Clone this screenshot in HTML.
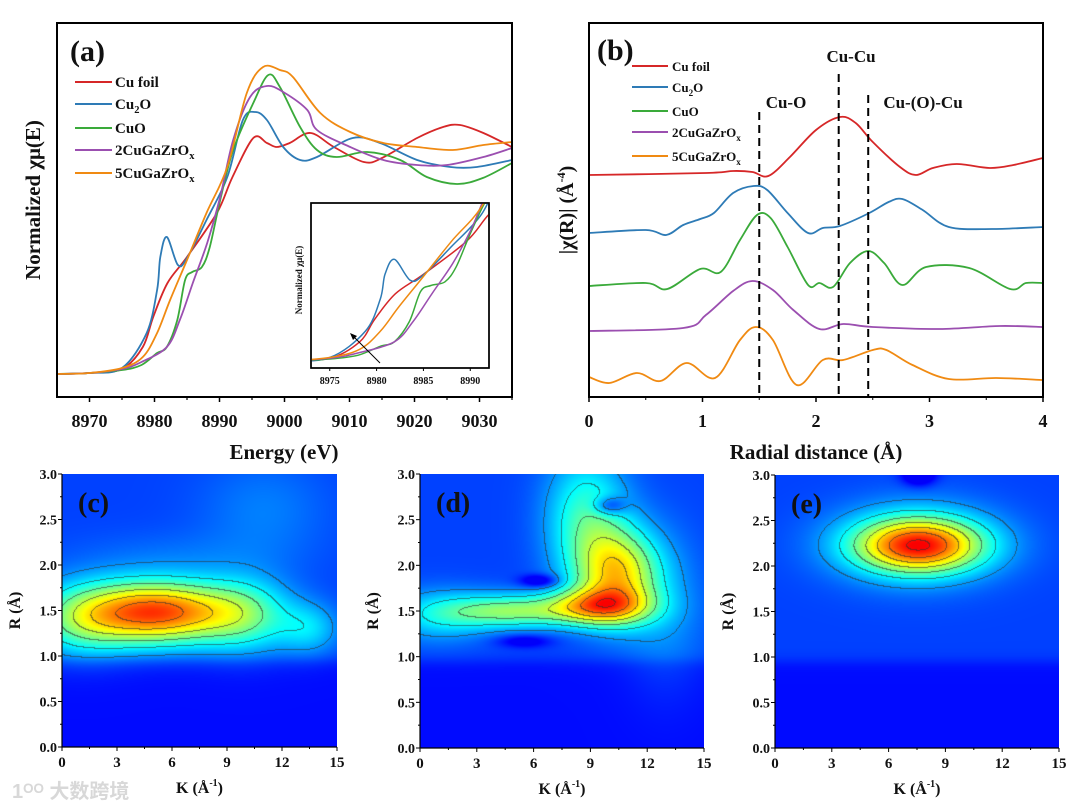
<!DOCTYPE html>
<html><head><meta charset="utf-8">
<style>
html,body{margin:0;padding:0;background:#fff;}
body{width:1080px;height:810px;position:relative;overflow:hidden;font-family:"Liberation Serif",serif;}
svg{position:absolute;left:0;top:0;}
canvas{position:absolute;}
</style></head>
<body>
<canvas id="cc"></canvas>
<canvas id="cd"></canvas>
<canvas id="ce"></canvas>
<svg id="s" width="1080" height="810" xmlns="http://www.w3.org/2000/svg"></svg>
<script>
// ---------- Panel (a) data: energy (eV) and normalized mu ----------
const aCuFoilE=[8965,8970,8975,8978.2,8979.8,8982,8985,8989.6,8992,8995.2,8997.3,8998.8,9000.8,9004,9007.6,9012.2,9015,9020.4,9024.4,9027,9030.6,9035];
const aCuFoilMu=[0,0.005,0.025,0.135,0.285,0.455,0.585,0.805,0.985,1.18,1.155,1.135,1.155,1.205,1.135,1.06,1.08,1.18,1.235,1.245,1.205,1.135];
const aCu2OE=[8965,8970,8975,8978.8,8980.4,8980.9,8981.9,8983.6,8985,8988,8991.2,8993.6,8995.5,8997.3,8999.8,9002.4,9005,9010.5,9014.7,9020.4,9025.5,9029.6,9035];
const aCu2OMu=[0,0.005,0.03,0.205,0.42,0.585,0.685,0.545,0.58,0.77,0.985,1.27,1.31,1.27,1.135,1.07,1.085,1.18,1.155,1.07,1.035,1.035,1.07];
const aCuOE=[8965,8970,8975,8978,8980.4,8981.9,8983.5,8984.7,8985.8,8987.3,8988.5,8990.1,8992.1,8995.2,8997.5,8999.3,9002.4,9005,9008,9012.7,9017.8,9021.9,9026.5,9030.5,9035];
const aCuOMu=[0,0.005,0.02,0.045,0.105,0.135,0.27,0.47,0.51,0.535,0.635,0.87,1.12,1.355,1.495,1.435,1.235,1.12,1.085,1.11,1.07,0.985,0.95,0.98,1.055];
const a2CuE=[8965,8970,8975,8978,8981.9,8983.9,8985.9,8988.1,8990.1,8992.1,8994.7,8997.3,8999.8,9003.5,9005,9010.1,9015.2,9020.4,9025,9030.6,9035];
const a2CuMu=[0,0.005,0.025,0.06,0.135,0.27,0.455,0.655,0.885,1.17,1.385,1.44,1.41,1.32,1.22,1.135,1.07,1.045,1.045,1.085,1.13];
const a5CuE=[8965,8970,8975,8978.2,8980.4,8982.4,8985,8988,8991.2,8994.2,8996.7,8999.3,9001.3,9005.5,9010.1,9015.2,9020.4,9025.9,9030.6,9035];
const a5CuMu=[0,0.005,0.03,0.085,0.205,0.37,0.57,0.805,1.035,1.405,1.535,1.52,1.485,1.305,1.21,1.155,1.135,1.12,1.145,1.16];
const aTicks=[8970,8980,8990,9000,9010,9020,9030];
const insetTicks=[8975,8980,8985,8990];
// ---------- Panel (b) data: R (Å) and |chi(R)| (offset, a.u.) ----------
const bCuFoilR=[0,1.03,1.27,1.44,1.58,1.77,2.0,2.21,2.35,2.5,2.74,2.88,3.03,3.24,3.53,3.74,4];
const bCuFoilV=[2.25,2.27,2.29,2.28,2.24,2.43,2.70,2.83,2.77,2.58,2.33,2.25,2.32,2.36,2.32,2.35,2.42];
const bCu2OR=[0,0.5,0.68,0.83,0.98,1.1,1.27,1.45,1.57,1.75,1.93,2.06,2.21,2.47,2.64,2.76,2.94,3.17,3.55,4];
const bCu2OV=[1.67,1.70,1.65,1.75,1.81,1.87,2.07,2.14,2.10,1.87,1.67,1.72,1.74,1.87,1.98,2.01,1.90,1.73,1.71,1.73];
const bCuOR=[0,0.5,0.69,0.98,1.16,1.33,1.48,1.6,1.75,1.93,2.03,2.15,2.3,2.46,2.6,2.76,2.97,3.35,3.71,3.85,4];
const bCuOV=[1.14,1.17,1.11,1.31,1.28,1.60,1.85,1.82,1.53,1.15,1.17,1.13,1.37,1.49,1.37,1.15,1.33,1.32,1.11,1.17,1.17];
const b2CuR=[0,0.83,1.03,1.27,1.44,1.62,1.8,2.03,2.24,2.5,3.09,3.62,4];
const b2CuV=[0.69,0.72,0.85,1.09,1.19,1.10,0.90,0.71,0.76,0.73,0.71,0.74,0.73];
const b5CuR=[0,0.18,0.42,0.63,0.86,1.11,1.33,1.47,1.62,1.83,2.06,2.24,2.5,2.62,2.85,3.17,3.59,4];
const b5CuV=[0.23,0.17,0.27,0.19,0.37,0.22,0.60,0.73,0.60,0.15,0.40,0.40,0.50,0.50,0.35,0.21,0.22,0.20];
const bTicks=[0,1,2,3,4];
const bDashR=[1.5,2.2,2.46];
// ---------- Wavelet components [k, R, amplitude, sigmaK, sigmaR] ----------
const wtC=[[5.2,1.48,0.8,2.8,0.24],[1,1.4,0.3,2,0.28],[10,1.45,0.3,1.8,0.28],[13.5,1.3,0.18,1.2,0.2],[11,2.6,0.08,2.5,0.4],[6,2.1,0.05,4,0.2]];
const wtD=[[9.5,1.55,0.5,1.8,0.14],[10.5,1.9,0.55,1.5,0.35],[5,1.5,0.4,2.5,0.13],[8.8,2.5,0.32,1.5,0.5],[1,1.45,0.2,2,0.2],[13,1.5,0.1,1.5,0.6],[10,2.65,-0.22,0.6,0.07],[6.3,1.83,-0.22,0.7,0.05],[5.5,1.17,-0.15,1,0.05]];
const wtE=[[7.6,2.22,0.62,2.3,0.2],[7.5,2.25,0.3,3.0,0.3],[7.6,3.0,-0.25,0.6,0.08]];
const kTicks=[0,3,6,9,12,15];
const rTicks=[0.0,0.5,1.0,1.5,2.0,2.5,3.0];

const NS="http://www.w3.org/2000/svg";
const S=document.getElementById('s');
function mk(tag,attrs,parent){const e=document.createElementNS(NS,tag);for(const k in attrs)e.setAttribute(k,attrs[k]);(parent||S).appendChild(e);return e;}
function txt(x,y,str,size,anchor,parent,extra){const t=mk('text',Object.assign({x:x,y:y,'font-size':size,'font-weight':'bold','text-anchor':anchor||'middle','font-family':'Liberation Serif, serif',fill:'#111'},extra||{}),parent);t.textContent=str;return t;}
function smoothPath(pts){let d='M'+pts[0][0].toFixed(1)+','+pts[0][1].toFixed(1);for(let i=0;i<pts.length-1;i++){const p0=pts[Math.max(0,i-1)],p1=pts[i],p2=pts[i+1],p3=pts[Math.min(pts.length-1,i+2)];const c1=[p1[0]+(p2[0]-p0[0])/6,p1[1]+(p2[1]-p0[1])/6],c2=[p2[0]-(p3[0]-p1[0])/6,p2[1]-(p3[1]-p1[1])/6];d+=' C'+c1[0].toFixed(1)+','+c1[1].toFixed(1)+' '+c2[0].toFixed(1)+','+c2[1].toFixed(1)+' '+p2[0].toFixed(1)+','+p2[1].toFixed(1);}return d;}
const COLORS=['#d62728','#2e7bb6','#3aaa3a','#9b4fb0','#f08a12'];
const NAMES=['Cu foil','Cu2O','CuO','2CuGaZrOx','5CuGaZrOx'];
function legendLabel(g,x,y,i,size){const t=txt(x,y,'',size,'start',g);
 const parts=[['Cu foil'],['Cu','2','O'],['CuO'],['2CuGaZrO','x'],['5CuGaZrO','x']][i];
 parts.forEach((p,j)=>{const ts=document.createElementNS(NS,'tspan');const sub=(i===1&&j===1)||(i>=3&&j===1);if(sub){ts.setAttribute('font-size',size*0.7);ts.setAttribute('dy',4);}else if(j>0&&i===1){ts.setAttribute('dy',-4);}ts.textContent=p;t.appendChild(ts);});}

// ===== Panel (a) =====
const A={x0:57,x1:512,y0:23,y1:397,e0:8965,e1:9035};
const ax=e=>A.x0+(e-A.e0)/(A.e1-A.e0)*(A.x1-A.x0);
const ay=m=>374-m*200;
const gA=mk('g',{});
mk('defs',{},gA).innerHTML='<clipPath id="clipA"><rect x="57" y="23" width="455" height="374"/></clipPath><clipPath id="clipI"><rect x="311" y="203" width="178" height="165"/></clipPath>';
const aSeries=[[aCuFoilE,aCuFoilMu],[aCu2OE,aCu2OMu],[aCuOE,aCuOMu],[a2CuE,a2CuMu],[a5CuE,a5CuMu]];
const gAL=mk('g',{'clip-path':'url(#clipA)'},gA);
aSeries.forEach((s,i)=>{const p=mk('path',{d:smoothPath(s[0].map((e,j)=>[ax(e),ay(s[1][j])])),fill:'none',stroke:COLORS[i],'stroke-width':1.8},gAL);});
mk('rect',{x:A.x0,y:A.y0,width:A.x1-A.x0,height:A.y1-A.y0,fill:'none',stroke:'#000','stroke-width':2},gA);
aTicks.forEach(t=>{mk('line',{x1:ax(t),x2:ax(t),y1:A.y1,y2:A.y1+5,stroke:'#000','stroke-width':1.5},gA);mk('line',{x1:ax(t+5),x2:ax(t+5),y1:A.y1,y2:A.y1+3,stroke:'#000','stroke-width':1.2},gA);const l=txt(ax(t),427,String(t),18,'middle',gA);});
const xtA=txt(284,459,'Energy (eV)',21,'middle',gA);
const ytA=txt(0,0,'Normalized χμ(E)',21,'middle',gA,{transform:'translate(40,200) rotate(-90)'});
const labA=txt(70,61,'(a)',30,'start',gA);
const legA=mk('g',{},gA);
[82,104,128,150,173].forEach((y,i)=>{mk('line',{x1:75,x2:112,y1:y,y2:y,stroke:COLORS[i],'stroke-width':2},legA);legendLabel(legA,115,y+5,i,15);});
// inset
const I={x0:311,x1:489,y0:203,y1:368,e0:8973,e1:8992};
const ix=e=>I.x0+(e-I.e0)/(I.e1-I.e0)*(I.x1-I.x0);
const iy=m=>362-m*150;
const gI=mk('g',{},gA);
mk('rect',{x:I.x0,y:I.y0,width:I.x1-I.x0,height:I.y1-I.y0,fill:'#fff',stroke:'#000','stroke-width':1.5},gI);
const gIL=mk('g',{'clip-path':'url(#clipI)'},gI);
aSeries.forEach((s,i)=>{mk('path',{d:smoothPath(s[0].map((e,j)=>[ix(e),iy(s[1][j])])),fill:'none',stroke:COLORS[i],'stroke-width':1.5},gIL);});
mk('rect',{x:I.x0,y:I.y0,width:I.x1-I.x0,height:I.y1-I.y0,fill:'none',stroke:'#000','stroke-width':1.5},gI);
insetTicks.forEach(t=>{mk('line',{x1:ix(t),x2:ix(t),y1:I.y1,y2:I.y1+3,stroke:'#000'},gI);txt(ix(t),384,String(t),10,'middle',gI);});
txt(0,0,'Normalized χμ(E)',9,'middle',gI,{transform:'translate(302,280) rotate(-90)'});
mk('line',{x1:380,y1:363,x2:352,y2:335,stroke:'#000','stroke-width':1},gI);
mk('path',{d:'M350,333 L357,336 L353,340 Z',fill:'#000'},gI);

// ===== Panel (b) =====
const B={x0:589,x1:1043,y0:23,y1:397};
const bx=r=>B.x0+r/4*(B.x1-B.x0);
const by=v=>400-v*100;
const gB=mk('g',{});
const bSeries=[[bCuFoilR,bCuFoilV],[bCu2OR,bCu2OV],[bCuOR,bCuOV],[b2CuR,b2CuV],[b5CuR,b5CuV]];
bSeries.forEach((s,i)=>{const p=mk('path',{d:smoothPath(s[0].map((r,j)=>[bx(r),by(s[1][j])])),fill:'none',stroke:COLORS[i],'stroke-width':1.8},gB);});
const dashTop=[112,74,95];
bDashR.forEach((r,i)=>{const l=mk('line',{x1:bx(r),x2:bx(r),y1:dashTop[i],y2:B.y1,stroke:'#000','stroke-width':2,'stroke-dasharray':'8,5'},gB);});
txt(786,108,'Cu-O',17,'middle',gB);txt(851,62,'Cu-Cu',17,'middle',gB);txt(923,108,'Cu-(O)-Cu',17,'middle',gB);
mk('rect',{x:B.x0,y:B.y0,width:B.x1-B.x0,height:B.y1-B.y0,fill:'none',stroke:'#000','stroke-width':2},gB);
bTicks.forEach(t=>{mk('line',{x1:bx(t),x2:bx(t),y1:B.y1,y2:B.y1+5,stroke:'#000','stroke-width':1.5},gB);if(t<4)mk('line',{x1:bx(t+0.5),x2:bx(t+0.5),y1:B.y1,y2:B.y1+3,stroke:'#000'},gB);const l=txt(bx(t),427,String(t),18,'middle',gB);});
const xtB=txt(816,459,'Radial distance (Å)',21,'middle',gB);
const ytB=txt(0,0,'|χ(R)| (Å',20,'middle',gB,{transform:'translate(573,210) rotate(-90)'});

{const a=document.createElementNS(NS,'tspan');a.setAttribute('font-size',12);a.setAttribute('dy',-8);a.textContent='-4';ytB.appendChild(a);const b=document.createElementNS(NS,'tspan');b.setAttribute('dy',8);b.textContent=')';ytB.appendChild(b);}
const labB=txt(597,60,'(b)',30,'start',gB);
const legB=mk('g',{},gB);
[66,87,111,132,156].forEach((y,i)=>{mk('line',{x1:632,x2:668,y1:y,y2:y,stroke:COLORS[i],'stroke-width':2},legB);legendLabel(legB,672,y+5,i,13);});

// ===== Wavelet panels =====
function jet(t){const c=v=>Math.max(0,Math.min(1,v));return [c(1.5-Math.abs(4*t-3))*255,c(1.5-Math.abs(4*t-2))*255,c(1.5-Math.abs(4*t-1))*255];}
function field(comps,k,R){let v=0.02+0.07/(1+Math.exp(-(R-0.95)/0.04));for(const c of comps){v+=c[2]*Math.exp(-((k-c[0])**2)/(2*c[3]*c[3])-((R-c[1])**2)/(2*c[4]*c[4]));}return Math.max(0,Math.min(1,v));}
function drawWT(id,comps,P,label,nm){
 const cv=document.getElementById(id);const W=P.x1-P.x0,H=P.y1-P.y0;cv.width=W;cv.height=H;cv.style.left=P.x0+'px';cv.style.top=P.y0+'px';
 const ctx=cv.getContext('2d');const img=ctx.createImageData(W,H);
 const vals=new Float32Array(W*H);
 for(let j=0;j<H;j++)for(let i=0;i<W;i++){vals[j*W+i]=field(comps,(i+0.5)/W*15,3-(j+0.5)/H*3);}
 const lev=v=>Math.floor((v-0.2)/0.13);
 for(let j=0;j<H;j++)for(let i=0;i<W;i++){const v=vals[j*W+i];let col=jet(0.12+v*0.76);
  const L=lev(v);let edge=false;if(v>0.17){if(i<W-1&&lev(vals[j*W+i+1])!==L)edge=true;if(j<H-1&&lev(vals[(j+1)*W+i])!==L)edge=true;}
  if(edge)col=[col[0]*0.4+30,col[1]*0.4+30,col[2]*0.4+30];
  const o=(j*W+i)*4;img.data[o]=col[0];img.data[o+1]=col[1];img.data[o+2]=col[2];img.data[o+3]=255;}
 ctx.putImageData(img,0,0);
 const g=mk('g',{});
 const kx=k=>P.x0+k/15*W, ry=r=>P.y1-r/3*H;
 mk('line',{x1:P.x0,x2:P.x0,y1:P.y0,y2:P.y1,stroke:'#000','stroke-width':1.2},g);
 mk('line',{x1:P.x0,x2:P.x1,y1:P.y1,y2:P.y1,stroke:'#000','stroke-width':1.2},g);
 kTicks.forEach(t=>{mk('line',{x1:kx(t),x2:kx(t),y1:P.y1,y2:P.y1+4,stroke:'#000'},g);if(t<15)mk('line',{x1:kx(t+1.5),x2:kx(t+1.5),y1:P.y1,y2:P.y1+2,stroke:'#000'},g);txt(kx(t),P.y1+20,String(t),15,'middle',g);});
 rTicks.forEach(t=>{mk('line',{x1:P.x0-4,x2:P.x0,y1:ry(t),y2:ry(t),stroke:'#000'},g);if(t<3)mk('line',{x1:P.x0-2,x2:P.x0,y1:ry(t+0.25),y2:ry(t+0.25),stroke:'#000'},g);txt(P.x0-5,ry(t)+5,t.toFixed(1),14,'end',g);});
 const xt=txt((P.x0+P.x1)/2,P.y1+46,'K (Å',16,'middle',g);
 {const a=document.createElementNS(NS,'tspan');a.setAttribute('font-size',10);a.setAttribute('dy',-7);a.textContent='-1';xt.appendChild(a);const b=document.createElementNS(NS,'tspan');b.setAttribute('dy',7);b.textContent=')';xt.appendChild(b);}
 txt(0,0,'R (Å)',16,'middle',g,{transform:'translate('+(P.x0-42)+','+((P.y0+P.y1)/2)+') rotate(-90)'});
 txt(P.x0+16,P.y0+38,label,28,'start',g);
}
drawWT('cc',wtC,{x0:62,x1:337,y0:474,y1:747},'(c)','panel-c-wavelet');
drawWT('cd',wtD,{x0:420,x1:704,y0:474,y1:748},'(d)','panel-d-wavelet');
drawWT('ce',wtE,{x0:775,x1:1059,y0:475,y1:748},'(e)','panel-e-wavelet');
const wm=txt(12,798,'1ᴼᴼ 大数跨境',20,'start',S,{fill:'#d8d8d8','font-family':'Liberation Sans, Noto Sans CJK SC, sans-serif'});

</script>
</body></html>
